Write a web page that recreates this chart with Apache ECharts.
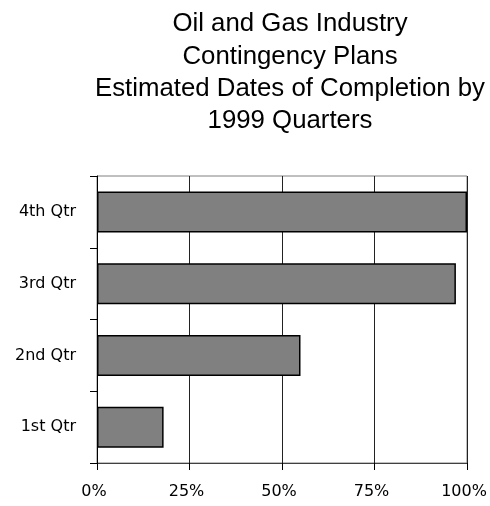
<!DOCTYPE html>
<html>
<head>
<meta charset="utf-8">
<script src="https://cdn.jsdelivr.net/npm/echarts@6/dist/echarts.min.js"></script>
<style>html,body{margin:0;padding:0;background:#fff;}#c{width:490px;height:506px;}</style>
</head>
<body>
<div id="c"></div>
<script>
const titleLines = ['Oil and Gas Industry', 'Contingency Plans', 'Estimated Dates of Completion by', '1999 Quarters'];
const categories = ['1st Qtr', '2nd Qtr', '3rd Qtr', '4th Qtr'];
const values = [18, 55, 97, 100];
const xTicks = { min: 0, max: 100, interval: 25 };

const chart = echarts.init(document.getElementById('c'), null, { renderer: 'canvas' });
chart.setOption({
  backgroundColor: '#ffffff',
  animation: false,
  title: {
    text: titleLines.join('\n'),
    left: 290,
    textAlign: 'center',
    top: 8,
    padding: 0,
    textStyle: { fontFamily: 'Liberation Sans, Arial', fontSize: 25.8, fontWeight: 'normal', color: '#000', lineHeight: 32.3 }
  },
  grid: { show: true, borderColor: '#808080', borderWidth: 1, left: 97, right: 23, top: 176, bottom: 43, containLabel: false },
  xAxis: {
    type: 'value',
    min: xTicks.min, max: xTicks.max, interval: xTicks.interval,
    axisLine: { show: true, lineStyle: { color: '#404040', width: 1 } },
    axisTick: { show: true, length: 7, lineStyle: { color: '#000' } },
    axisLabel: { formatter: '{value}%', margin: 21, padding: [0, 6, 0, 0], fontFamily: 'DejaVu Sans', fontSize: 16, color: '#000' },
    splitLine: { show: true, lineStyle: { color: '#222', width: 1 } }
  },
  yAxis: {
    type: 'category',
    data: categories,
    axisLine: { show: true, lineStyle: { color: '#000', width: 1 } },
    axisTick: { show: true, length: 7, lineStyle: { color: '#000' } },
    axisLabel: { margin: 21, fontFamily: 'DejaVu Sans', fontSize: 16, color: '#000' },
    splitLine: { show: false }
  },
  series: [{
    type: 'bar',
    data: values,
    barWidth: 41,
    itemStyle: { color: '#808080', borderColor: '#000', borderWidth: 1.5 }
  }]
});
</script>
</body>
</html>
